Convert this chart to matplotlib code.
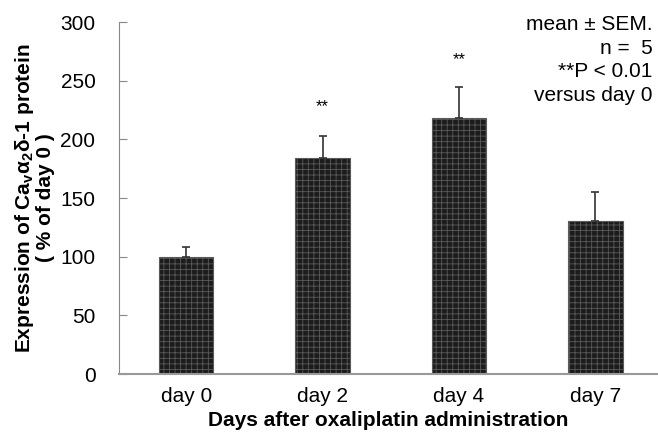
import numpy as np
import matplotlib
matplotlib.use('Agg')
import matplotlib.pyplot as plt

plt.rcParams['font.family'] = ['Liberation Sans', 'DejaVu Sans']
plt.rcParams['hatch.linewidth'] = 0.6
plt.rcParams['mathtext.fontset'] = 'custom'
plt.rcParams['mathtext.rm'] = 'Liberation Sans'
plt.rcParams['mathtext.bf'] = 'Liberation Sans:bold'

# Data
days = ['day 0', 'day 2', 'day 4', 'day 7']
expression = [100, 184, 218, 130]
sem = [8, 19, 27, 25]
stars = ['', '**', '**', '']
star_y = [0, 228, 268, 0]

fig = plt.figure(figsize=(6.58, 4.32), dpi=100)
ax = fig.add_axes([119 / 658, 1 - 374 / 432, 539 / 658, 352 / 432])

x = np.arange(len(days))
ax.bar(x, expression, width=0.40, color='#1c1c1c', edgecolor='#5a5a5a',
       hatch='+++', linewidth=0.8, zorder=2)
ax.errorbar(x, expression, yerr=[np.zeros(len(sem)), sem], fmt='none',
            ecolor='#333333', elinewidth=1.2, capsize=3, capthick=1.2, zorder=3)

for xi, s, sy in zip(x, stars, star_y):
    if s:
        ax.text(xi, sy, s, ha='center', va='center', fontsize=12)

ax.set_xlim(-0.493, 3.46)
ax.set_ylim(0, 300)
ax.set_yticks(range(0, 301, 50))
ax.set_xticks(x)
ax.set_xticklabels(days, fontsize=15)
ax.tick_params(axis='y', direction='in', length=6, color='#888888', labelsize=15, pad=17)
ax.tick_params(axis='x', length=0, pad=9)

for side in ['top', 'right']:
    ax.spines[side].set_visible(False)
ax.spines['left'].set_color('#888888')
ax.spines['bottom'].set_color('#999999')
ax.spines['bottom'].set_linewidth(1.5)

ax.set_xlabel('Days after oxaliplatin administration', fontsize=15,
              fontweight='bold', labelpad=4)
ax.set_ylabel('Expression of Ca$_\\mathbf{v}$α$_\\mathbf{2}$δ-1 protein\n( % of day 0 )',
              fontsize=15, fontweight='bold', linespacing=1.0, labelpad=4)

ax.text(0.99, 1.02, 'mean ± SEM.\nn =  5\n**P < 0.01\nversus day 0',
        transform=ax.transAxes, ha='right', va='top', fontsize=15,
        linespacing=1.31, multialignment='right')

fig.savefig('out.png', dpi=100)
